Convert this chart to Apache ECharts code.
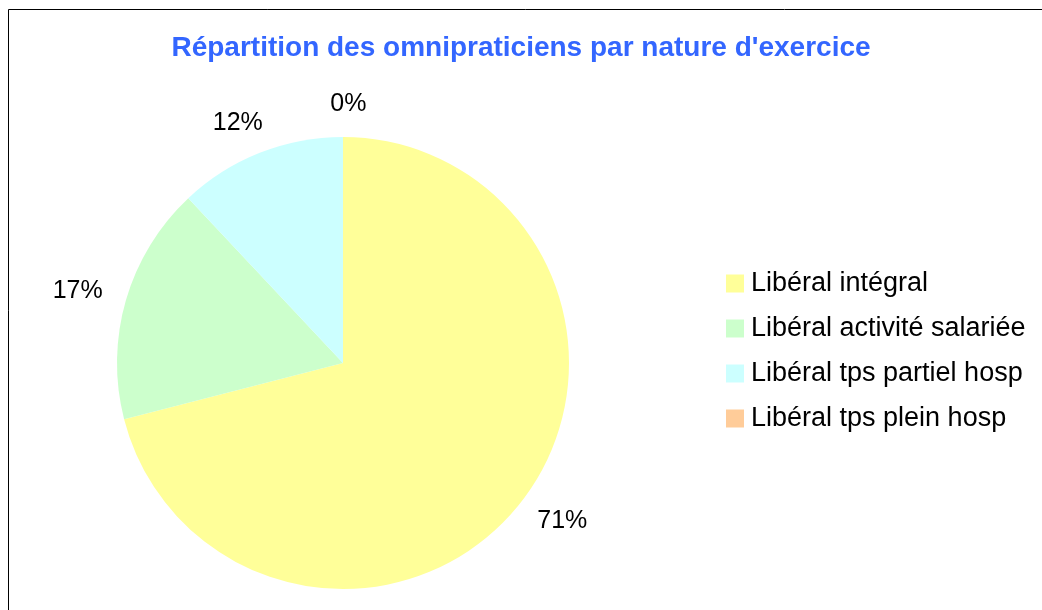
<!DOCTYPE html>
<html>
<head>
<meta charset="utf-8">
<script src="https://cdn.jsdelivr.net/npm/echarts@6/dist/echarts.min.js"></script>
<style>
  html, body { margin: 0; padding: 0; background: #fff; }
  #chart { width: 1042px; height: 610px; }
</style>
</head>
<body>
<div id="chart"></div>
<script>
// chart data
var categories = ['Libéral intégral', 'Libéral activité salariée', 'Libéral tps partiel hosp', 'Libéral tps plein hosp'];
var values = [71, 17, 12, 0];
var colors = ['#FFFF99', '#CCFFCC', '#CCFFFF', '#FFCC99'];
var titleText = "Répartition des omnipraticiens par nature d'exercice";

var pieCenter = [343, 363];

// push each label out so its box (not its edge) sits radially off the pie
function placeLabel(params) {
    var r = params.labelRect;
    var ax = params.align === 'left' ? r.x : r.x + r.width;
    var ay = r.y + r.height / 2;
    var vx = ax - pieCenter[0];
    var vy = ay - pieCenter[1];
    var len = Math.sqrt(vx * vx + vy * vy) || 1;
    vx /= len;
    vy /= len;
    return {
        x: ax + vx * r.width / 2,
        y: ay + vy * r.height / 2,
        align: 'center',
        verticalAlign: 'middle'
    };
}

function initPieChart() {
    var chartDom = document.getElementById('chart');
    var myChart = echarts.init(chartDom);

    var pieData = categories.map(function (name, i) {
        return { name: name, value: values[i], itemStyle: { color: colors[i] } };
    });

    var option = {
        animation: false,
        title: {
            text: titleText,
            left: 'center',
            top: 29,
            textStyle: {
                fontFamily: 'Liberation Sans',
                fontWeight: 'bold',
                fontSize: 28,
                color: '#3366FF'
            }
        },
        legend: {
            orient: 'vertical',
            left: 721,
            top: 265,
            icon: 'rect',
            itemWidth: 18,
            itemHeight: 18,
            itemGap: 18,
            textStyle: {
                fontFamily: 'Liberation Sans',
                fontSize: 27,
                color: '#000',
                padding: [0, 0, 0, 2]
            },
            data: categories
        },
        graphic: [{
            type: 'rect',
            shape: { x: 8.5, y: 9.5, width: 1100, height: 700 },
            style: { fill: 'none', stroke: '#000', lineWidth: 1 },
            silent: true
        }],
        series: [{
            type: 'pie',
            center: pieCenter,
            radius: 226,
            startAngle: 90,
            clockwise: true,
            data: pieData,
            label: {
                show: true,
                position: 'outside',
                formatter: function (p) { return Math.round(p.percent) + '%'; },
                fontFamily: 'Liberation Sans',
                fontSize: 25,
                color: '#000'
            },
            labelLine: { show: false, length: 20, length2: 0 },
            labelLayout: placeLabel,
            emphasis: { disabled: true }
        }]
    };

    myChart.setOption(option);
}

initPieChart();
</script>
</body>
</html>
